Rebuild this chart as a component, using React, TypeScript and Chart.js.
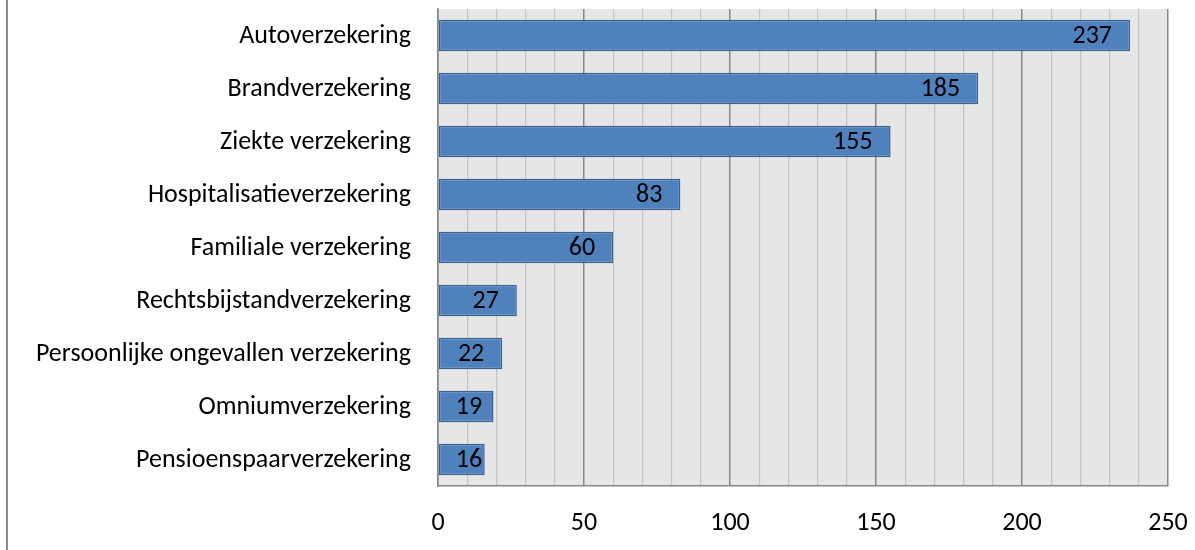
import React, { useEffect, useRef } from "react";
import { Chart, registerables } from "chart.js";

Chart.register(...registerables);

const categories = [
  "Autoverzekering",
  "Brandverzekering",
  "Ziekte verzekering",
  "Hospitalisatieverzekering",
  "Familiale verzekering",
  "Rechtsbijstandverzekering",
  "Persoonlijke ongevallen verzekering",
  "Omniumverzekering",
  "Pensioenspaarverzekering",
];
const counts = [237, 185, 155, 83, 60, 27, 22, 19, 16];
const axisMin = 0;
const axisMax = 250;
const minorStep = 10;
const majorStep = 50;

const FONT_FAMILY = "Carlito, Calibri, Lato, sans-serif";
const FONT_SIZE = 26;

// Fills the plot area with a light grey panel before anything else is drawn.
const plotBackground = {
  id: "plotBackground",
  beforeDraw(chart: any) {
    const { ctx, chartArea } = chart;
    ctx.save();
    ctx.fillStyle = "#e6e6e6";
    ctx.fillRect(chartArea.left, chartArea.top, chartArea.right - chartArea.left, chartArea.bottom - chartArea.top);
    ctx.restore();
  },
};

// Writes each value inside the end of its bar, never closer than a small inset from the axis.
const barValueLabels = {
  id: "barValueLabels",
  afterDatasetsDraw(chart: any) {
    const { ctx } = chart;
    const meta = chart.getDatasetMeta(0);
    const values = chart.data.datasets[0].data as number[];
    ctx.save();
    ctx.font = `${FONT_SIZE}px ${FONT_FAMILY}`;
    ctx.fillStyle = "#000000";
    ctx.textAlign = "right";
    ctx.textBaseline = "middle";
    meta.data.forEach((bar: any, i: number) => {
      const text = String(values[i]);
      const w = ctx.measureText(text).width;
      const x = Math.max(bar.x - 18, bar.base + 17 + w);
      ctx.fillText(text, x, bar.y + 1);
    });
    ctx.restore();
  },
};

export default function App() {
  const canvasRef = useRef<HTMLCanvasElement | null>(null);

  useEffect(() => {
    const canvas = canvasRef.current;
    if (!canvas) return;
    const chart = new Chart(canvas, {
      type: "bar",
      data: {
        labels: categories,
        datasets: [
          {
            data: counts,
            backgroundColor: "#4f81bd",
            borderColor: "#3b6392",
            borderWidth: 1.5,
            borderSkipped: false,
            barPercentage: 0.59,
            categoryPercentage: 1,
          },
        ],
      },
      options: {
        indexAxis: "y",
        responsive: false,
        animation: false,
        events: [],
        layout: { padding: { left: 0, right: 27, top: 9, bottom: 0 } },
        plugins: {
          legend: { display: false },
          tooltip: { enabled: false },
        },
        scales: {
          x: {
            min: axisMin,
            max: axisMax,
            afterFit(scale: any) {
              scale.height = 64;
              scale.paddingLeft = 0;
              scale.paddingRight = 0;
            },
            ticks: {
              stepSize: minorStep,
              autoSkip: false,
              maxRotation: 0,
              padding: 22,
              color: "#000000",
              font: { family: FONT_FAMILY, size: FONT_SIZE },
              callback: (v: any) => (Number(v) % majorStep === 0 ? String(v) : ""),
            },
            grid: {
              drawTicks: false,
              color: (c: any) => (c.tick && c.tick.value % majorStep === 0 ? "#878787" : "#c3c3c3"),
              lineWidth: (c: any) => (c.tick && c.tick.value % majorStep === 0 ? 1.5 : 1.2),
            },
            border: { display: true, color: "#878787", width: 1.5 },
          },
          y: {
            afterFit(scale: any) {
              scale.width = 438;
              scale.paddingTop = 0;
              scale.paddingBottom = 0;
            },
            ticks: {
              padding: 27,
              labelOffset: 1,
              color: "#000000",
              font: { family: FONT_FAMILY, size: FONT_SIZE },
            },
            grid: { display: false, drawTicks: false },
            border: { display: true, color: "#878787", width: 1.5 },
          },
        },
      },
      plugins: [plotBackground, barValueLabels],
    });
    return () => chart.destroy();
  }, []);

  return (
    <div style={{ position: "fixed", left: 0, top: 0, width: 1195, height: 550, background: "#ffffff" }}>
      <div
        style={{ position: "absolute", left: 6, top: 0, width: 2, height: 550, background: "#8c8c8c" }}
      />
      <canvas ref={canvasRef} width={1195} height={550} style={{ position: "absolute", left: 0, top: 0 }} />
    </div>
  );
}
